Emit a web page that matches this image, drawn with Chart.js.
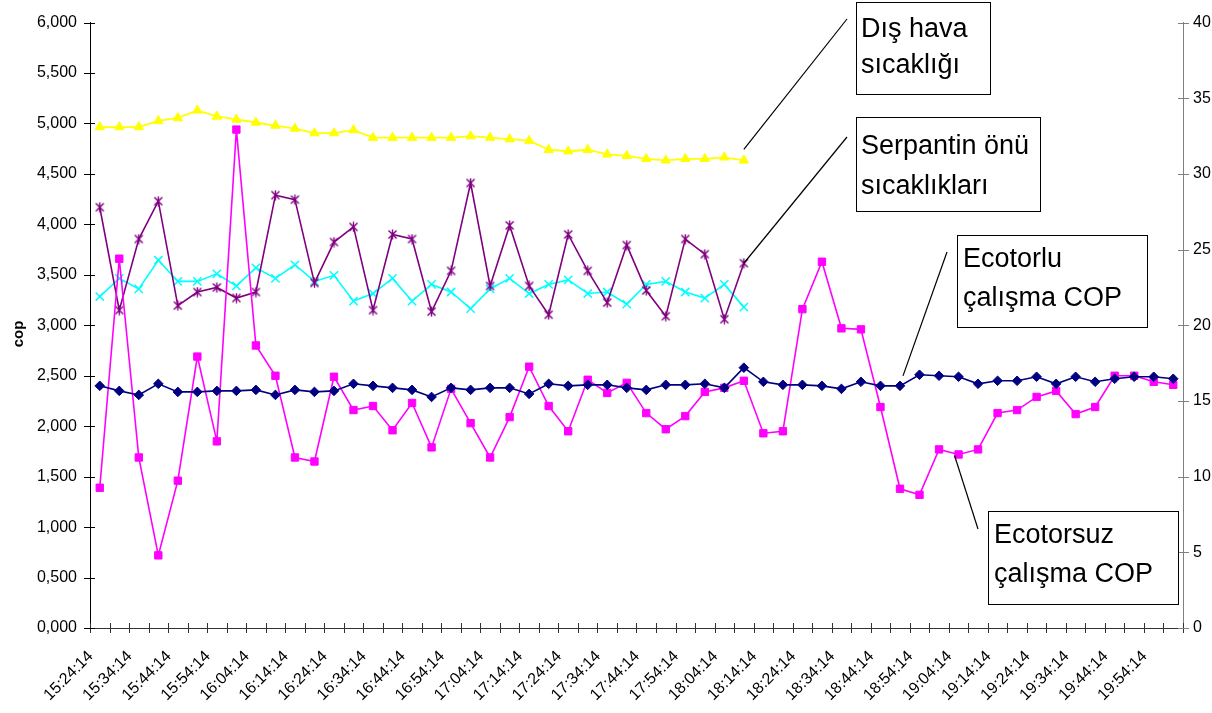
<!DOCTYPE html>
<html>
<head>
<meta charset="utf-8">
<script src="https://cdn.jsdelivr.net/npm/chart.js@4.4.1/dist/chart.umd.min.js"></script>
<style>
  html, body { margin: 0; padding: 0; background: #ffffff; }
  canvas { display: block; }
</style>
</head>
<body>
<canvas id="chart" width="1212" height="713"></canvas>
<script>
// Measurement times (5-minute steps)
const times = [
  '15:24:14','15:29:14','15:34:14','15:39:14','15:44:14','15:49:14','15:54:14','15:59:14',
  '16:04:14','16:09:14','16:14:14','16:19:14','16:24:14','16:29:14','16:34:14','16:39:14',
  '16:44:14','16:49:14','16:54:14','16:59:14','17:04:14','17:09:14','17:14:14','17:19:14',
  '17:24:14','17:29:14','17:34:14','17:39:14','17:44:14','17:49:14','17:54:14','17:59:14',
  '18:04:14','18:09:14','18:14:14','18:19:14','18:24:14','18:29:14','18:34:14','18:39:14',
  '18:44:14','18:49:14','18:54:14','18:59:14','19:04:14','19:09:14','19:14:14','19:19:14',
  '19:24:14','19:29:14','19:34:14','19:39:14','19:44:14','19:49:14','19:54:14','19:59:14'
];

// COP with Ecotor (left axis)
const copEcotorlu = [
  2.40, 2.35, 2.31, 2.42, 2.34, 2.34, 2.35, 2.35, 2.36, 2.31, 2.36, 2.34, 2.35, 2.42,
  2.40, 2.38, 2.36, 2.29, 2.38, 2.36, 2.38, 2.38, 2.32, 2.42, 2.40, 2.41, 2.41, 2.38,
  2.36, 2.41, 2.41, 2.42, 2.38, 2.58, 2.44, 2.41, 2.41, 2.40, 2.37, 2.44, 2.40, 2.40,
  2.51, 2.50, 2.49, 2.42, 2.45, 2.45, 2.49, 2.42, 2.49, 2.44, 2.47, 2.49, 2.49, 2.47
];

// COP without Ecotor (left axis)
const copEcotorsuz = [
  1.39, 3.66, 1.69, 0.72, 1.46, 2.69, 1.85, 4.94, 2.80, 2.50, 1.69, 1.65, 2.49, 2.16,
  2.20, 1.96, 2.23, 1.79, 2.37, 2.03, 1.69, 2.09, 2.59, 2.20, 1.95, 2.46, 2.33, 2.43,
  2.13, 1.97, 2.10, 2.34, 2.38, 2.45, 1.93, 1.95, 3.16, 3.63, 2.97, 2.96, 2.19, 1.38,
  1.32, 1.77, 1.72, 1.77, 2.13, 2.16, 2.29, 2.35, 2.12, 2.19, 2.50, 2.50, 2.44, 2.41
];

// Outdoor air temperature, °C (right axis)
const disHava = [
  33.1, 33.1, 33.1, 33.5, 33.7, 34.2, 33.8, 33.6, 33.4, 33.2, 33.0, 32.7, 32.7, 32.9,
  32.4, 32.4, 32.4, 32.4, 32.4, 32.5, 32.4, 32.3, 32.2, 31.6, 31.5, 31.6, 31.3, 31.2,
  31.0, 30.9, 31.0, 31.0, 31.1, 30.9
];

// Coil inlet temperatures, °C (right axis)
const serpantin1 = [
  27.8, 21.0, 25.7, 28.2, 21.3, 22.2, 22.5, 21.8, 22.2, 28.6, 28.3, 22.8, 25.5, 26.5,
  21.0, 26.0, 25.7, 20.9, 23.6, 29.4, 22.6, 26.6, 22.6, 20.7, 26.0, 23.6, 21.5, 25.3,
  22.3, 20.6, 25.7, 24.7, 20.4, 24.1
];
const serpantin2 = [
  21.9, 23.1, 22.4, 24.3, 22.9, 22.9, 23.4, 22.6, 23.8, 23.1, 24.0, 22.9, 23.3, 21.6,
  22.1, 23.1, 21.6, 22.7, 22.2, 21.1, 22.4, 23.1, 22.1, 22.7, 23.0, 22.1, 22.2, 21.4,
  22.7, 22.9, 22.2, 21.8, 22.7, 21.2
];

// Left axis tick labels use a decimal comma with three decimals
const fmtCop = v => v.toFixed(3).replace('.', ',');

// Six-armed asterisk marker for the first coil temperature series
function asteriskMarker(color) {
  const c = document.createElement('canvas');
  c.width = 11; c.height = 11;
  const g = c.getContext('2d');
  g.strokeStyle = color;
  g.lineWidth = 1.4;
  g.beginPath();
  g.moveTo(1.5, 1.5); g.lineTo(9.5, 9.5);
  g.moveTo(9.5, 1.5); g.lineTo(1.5, 9.5);
  g.moveTo(5.5, 0.5); g.lineTo(5.5, 10.5);
  g.stroke();
  return c;
}

// Callout boxes with leader lines to a data point
const callouts = [
  { lines: ['Dış hava', 'sıcaklığı'], box: [856, 2, 134, 92], textX: 861, base: [36.5, 73],
    ds: 2, idx: 33, from: [847, 19], tipOff: [0, -11] },
  { lines: ['Serpantin önü', 'sıcaklıkları'], box: [856, 117, 184, 94], textX: 861, base: [154, 194],
    ds: 3, idx: 33, from: [847, 137], tipOff: [0, 0] },
  { lines: ['Ecotorlu', 'çalışma COP'], box: [957, 235, 190, 92], textX: 963, base: [267, 306],
    ds: 0, idx: 41, from: [947, 252], tipOff: [3, -10] },
  { lines: ['Ecotorsuz', 'çalışma COP'], box: [988, 511, 190, 93], textX: 994, base: [543, 582],
    ds: 1, idx: 44, from: [978, 529], tipOff: [-4, 1] }
];

const decorations = {
  id: 'decorations',
  afterDraw(chart) {
    const ctx = chart.ctx;
    const x = chart.scales.x, yl = chart.scales.y, yr = chart.scales.y1;
    const area = chart.chartArea;
    ctx.save();

    // Crossing tick marks on the category axis (between categories)
    ctx.strokeStyle = '#333333';
    ctx.lineWidth = 1;
    const n = times.length;
    const step = (x.getPixelForValue(1) - x.getPixelForValue(0));
    ctx.beginPath();
    for (let i = 0; i <= n; i++) {
      const px = Math.round(x.getPixelForValue(0) - step / 2 + i * step) + 0.5;
      ctx.moveTo(px, area.bottom - 5);
      ctx.lineTo(px, area.bottom + 5);
    }
    ctx.stroke();

    // Crossing tick marks on the left axis
    ctx.strokeStyle = '#000000';
    ctx.beginPath();
    yl.ticks.forEach(t => {
      const py = Math.round(yl.getPixelForValue(t.value)) + 0.5;
      ctx.moveTo(area.left - 6, py);
      ctx.lineTo(area.left + 5, py);
    });
    ctx.stroke();

    // Crossing tick marks on the right axis
    ctx.strokeStyle = '#808080';
    ctx.beginPath();
    yr.ticks.forEach(t => {
      const py = Math.round(yr.getPixelForValue(t.value)) + 0.5;
      ctx.moveTo(area.right - 5, py);
      ctx.lineTo(area.right + 6, py);
    });
    ctx.stroke();

    // Left axis title
    ctx.save();
    ctx.translate(19, 334);
    ctx.rotate(-Math.PI / 2);
    ctx.fillStyle = '#000000';
    ctx.font = 'bold 15px "Liberation Sans", Arial, sans-serif';
    ctx.textAlign = 'center';
    ctx.textBaseline = 'middle';
    ctx.fillText('cop', 0, 0);
    ctx.restore();

    // Callouts
    callouts.forEach(c => {
      const meta = chart.getDatasetMeta(c.ds);
      const pt = meta.data[c.idx];
      ctx.strokeStyle = '#000000';
      ctx.lineWidth = 1.2;
      ctx.beginPath();
      ctx.moveTo(c.from[0], c.from[1]);
      ctx.lineTo(pt.x + c.tipOff[0], pt.y + c.tipOff[1]);
      ctx.stroke();

      const [bx, by, bw, bh] = c.box;
      ctx.fillStyle = '#ffffff';
      ctx.fillRect(bx, by, bw, bh);
      ctx.lineWidth = 1;
      ctx.strokeRect(bx + 0.5, by + 0.5, bw, bh);
      ctx.fillStyle = '#000000';
      ctx.font = '27px "Liberation Sans", Arial, sans-serif';
      ctx.textAlign = 'left';
      ctx.textBaseline = 'alphabetic';
      c.lines.forEach((s, k) => ctx.fillText(s, c.textX, c.base[k]));
    });

    ctx.restore();
  }
};

const tickFont = { family: '"Liberation Sans", Arial, sans-serif', size: 16 };

new Chart(document.getElementById('chart'), {
  type: 'line',
  data: {
    labels: times,
    datasets: [
      {
        label: 'Ecotorlu çalışma COP',
        data: copEcotorlu,
        yAxisID: 'y',
        borderColor: '#000080',
        backgroundColor: '#000080',
        borderWidth: 1.6,
        pointStyle: 'rectRot',
        pointRadius: 4.8,
        pointBorderWidth: 1
      },
      {
        label: 'Ecotorsuz çalışma COP',
        data: copEcotorsuz,
        yAxisID: 'y',
        borderColor: '#FF00FF',
        backgroundColor: '#FF00FF',
        borderWidth: 1.6,
        pointStyle: 'rect',
        pointRadius: 5.2,
        pointBorderWidth: 1
      },
      {
        label: 'Dış hava sıcaklığı',
        data: disHava,
        yAxisID: 'y1',
        borderColor: '#FFFF00',
        backgroundColor: '#FFFF00',
        borderWidth: 1.8,
        pointStyle: 'triangle',
        pointRadius: 5.4,
        pointBorderWidth: 1
      },
      {
        label: 'Serpantin önü sıcaklığı 1',
        data: serpantin1,
        yAxisID: 'y1',
        borderColor: '#800080',
        backgroundColor: '#800080',
        borderWidth: 1.6,
        pointStyle: asteriskMarker('#800080'),
        pointRadius: 5
      },
      {
        label: 'Serpantin önü sıcaklığı 2',
        data: serpantin2,
        yAxisID: 'y1',
        borderColor: '#00FFFF',
        backgroundColor: '#00FFFF',
        borderWidth: 1.6,
        pointStyle: 'crossRot',
        pointRadius: 5.8,
        pointBorderWidth: 1.5
      }
    ]
  },
  options: {
    responsive: false,
    animation: false,
    devicePixelRatio: 1,
    layout: { padding: { top: 18, left: 0, right: 0, bottom: 0 } },
    plugins: {
      legend: { display: false },
      tooltip: { enabled: false }
    },
    elements: { line: { tension: 0 } },
    scales: {
      x: {
        type: 'category',
        offset: true,
        grid: { display: false, drawTicks: false },
        border: { display: true, color: '#333333', width: 1 },
        ticks: {
          autoSkip: false,
          maxRotation: 45,
          minRotation: 45,
          padding: 19,
          labelOffset: -9,
          color: '#000000',
          font: tickFont,
          callback: (v, i) => (i % 2 === 0 ? times[i] : '')
        },
        afterFit: s => { s.height = 85; }
      },
      y: {
        position: 'left',
        min: 0,
        max: 6,
        grid: { display: false, drawTicks: false },
        border: { display: true, color: '#000000', width: 1 },
        ticks: {
          stepSize: 0.5,
          padding: 13,
          color: '#000000',
          font: tickFont,
          callback: v => fmtCop(v)
        },
        afterFit: s => { s.width = 90; }
      },
      y1: {
        position: 'right',
        min: 0,
        max: 40,
        grid: { display: false, drawTicks: false },
        border: { display: true, color: '#808080', width: 1 },
        ticks: {
          stepSize: 5,
          padding: 10,
          color: '#000000',
          font: tickFont
        },
        afterFit: s => { s.width = 29; }
      }
    }
  },
  plugins: [decorations]
});
</script>
</body>
</html>
